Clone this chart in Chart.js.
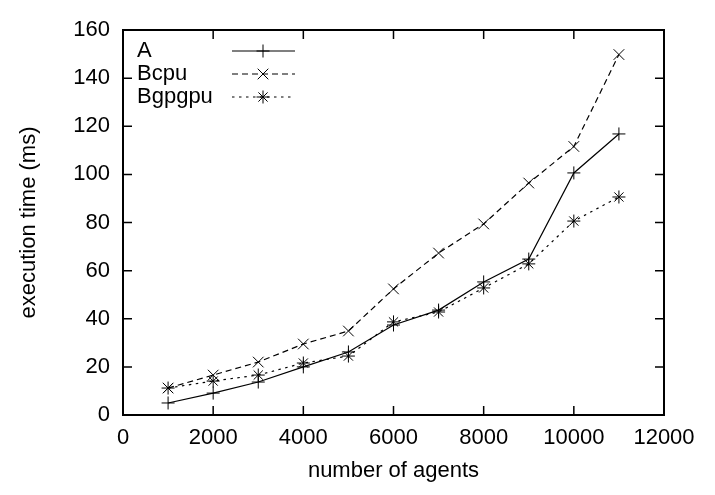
<!DOCTYPE html>
<html>
<head>
<meta charset="utf-8">
<title>execution time vs number of agents</title>
<script src="https://cdn.jsdelivr.net/npm/chart.js@4/dist/chart.umd.min.js"></script>
<style>
  html, body { margin: 0; padding: 0; background: #fff; }
  #wrap { width: 715px; height: 495px; }
</style>
</head>
<body>
<div id="wrap"><canvas id="chart"></canvas></div>
<script>
// values
const agents = [1000, 2000, 3000, 4000, 5000, 6000, 7000, 8000, 9000, 10000, 11000];
const timeA = [5.0, 9.1, 13.7, 20.0, 26.2, 37.4, 43.6, 55.3, 64.8, 100.6, 116.8];
const timeBcpu = [11.2, 16.6, 22.0, 29.5, 34.9, 52.4, 67.3, 79.4, 96.4, 111.6, 149.8];
const timeBgpgpu = [11.2, 14.1, 16.6, 21.6, 24.5, 38.7, 42.8, 52.8, 62.8, 80.6, 90.6];
const xTicks = [0, 2000, 4000, 6000, 8000, 10000, 12000];
const yTicks = [0, 20, 40, 60, 80, 100, 120, 140, 160];

const FONT = 'Liberation Sans, Arial, sans-serif';
const FONT_SIZE = 22;
const TICK_LEN = 9;

function toPoints(values) {
  return agents.map((x, i) => ({ x: x, y: values[i] }));
}

function series(label, values, dash, style, radius) {
  return {
    label: label,
    data: toPoints(values),
    borderColor: '#000',
    borderWidth: 1.2,
    borderDash: dash,
    pointStyle: style,
    pointRadius: radius,
    pointBorderWidth: 1,
    pointBorderColor: '#000',
    pointBackgroundColor: 'transparent',
    fill: false,
    tension: 0,
  };
}

/**
 * Draws the gnuplot style frame with inward ticks on all four sides.
 */
const framePlugin = {
  id: 'frame',
  afterDatasetsDraw(chart) {
    const { ctx, chartArea: a, scales } = chart;
    ctx.save();
    ctx.strokeStyle = '#000';
    ctx.lineWidth = 1.5;
    ctx.beginPath();
    xTicks.forEach((v) => {
      const px = scales.x.getPixelForValue(v);
      ctx.moveTo(px, a.bottom);
      ctx.lineTo(px, a.bottom - TICK_LEN);
      ctx.moveTo(px, a.top);
      ctx.lineTo(px, a.top + TICK_LEN);
    });
    yTicks.forEach((v) => {
      const py = scales.y.getPixelForValue(v);
      ctx.moveTo(a.left, py);
      ctx.lineTo(a.left + TICK_LEN, py);
      ctx.moveTo(a.right, py);
      ctx.lineTo(a.right - TICK_LEN, py);
    });
    ctx.stroke();
    ctx.lineWidth = 2;
    ctx.strokeRect(a.left, a.top, a.right - a.left, a.bottom - a.top);
    ctx.restore();
  },
};

/**
 * Key in the top left corner: title on the left, line sample on the right.
 */
const keyPlugin = {
  id: 'key',
  afterDraw(chart) {
    const { ctx, chartArea: a } = chart;
    ctx.save();
    ctx.font = FONT_SIZE + 'px ' + FONT;
    ctx.textBaseline = 'middle';
    ctx.fillStyle = '#000';
    chart.data.datasets.forEach((ds, i) => {
      const y = a.top + 21 + i * 23;
      ctx.fillText(ds.label, a.left + 14, y);
      ctx.strokeStyle = '#000';
      ctx.lineWidth = ds.borderWidth;
      ctx.setLineDash(ds.borderDash);
      ctx.beginPath();
      ctx.moveTo(a.left + 109, y);
      ctx.lineTo(a.left + 172, y);
      ctx.stroke();
      ctx.setLineDash([]);
      ctx.lineWidth = ds.pointBorderWidth;
      Chart.helpers.drawPoint(ctx, {
        pointStyle: ds.pointStyle,
        radius: ds.pointRadius,
        rotation: 0,
        borderWidth: ds.pointBorderWidth,
      }, a.left + 140, y);
    });
    ctx.restore();
  },
};

function initChart() {
  const ctx = document.getElementById('chart').getContext('2d');
  new Chart(ctx, {
    type: 'line',
    data: {
      datasets: [
        series('A', timeA, [], 'cross', 6.5),
        series('Bcpu', timeBcpu, [6, 4], 'crossRot', 7.5),
        series('Bgpgpu', timeBgpgpu, [2.5, 4.5], 'star', 6.5),
      ],
    },
    options: {
      animation: false,
      responsive: true,
      maintainAspectRatio: false,
      layout: { padding: { top: 30, right: 51, left: 0, bottom: 0 } },
      plugins: {
        legend: { display: false },
        tooltip: { enabled: false },
      },
      scales: {
        x: {
          type: 'linear',
          min: 0,
          max: 12000,
          afterBuildTicks: (scale) => { scale.ticks = xTicks.map((v) => ({ value: v })); },
          afterFit: (scale) => { scale.height = 80; },
          grid: { display: false, drawTicks: false },
          border: { display: false },
          ticks: {
            color: '#000',
            font: { family: FONT, size: FONT_SIZE },
            padding: 10,
            maxRotation: 0,
            callback: (v) => String(v),
          },
          title: {
            display: true,
            text: 'number of agents',
            color: '#000',
            font: { family: FONT, size: FONT_SIZE },
            padding: { top: 0, bottom: 11 },
          },
        },
        y: {
          type: 'linear',
          min: 0,
          max: 160,
          afterBuildTicks: (scale) => { scale.ticks = yTicks.map((v) => ({ value: v })); },
          afterFit: (scale) => { scale.width = 123; },
          grid: { display: false, drawTicks: false },
          border: { display: false },
          ticks: {
            color: '#000',
            font: { family: FONT, size: FONT_SIZE },
            padding: 13,
            callback: (v) => String(v),
          },
          title: {
            display: true,
            text: 'execution time (ms)',
            color: '#000',
            font: { family: FONT, size: FONT_SIZE },
            padding: { top: 16, bottom: 0 },
          },
        },
      },
    },
    plugins: [framePlugin, keyPlugin],
  });
}

document.addEventListener('DOMContentLoaded', initChart);
</script>
</body>
</html>
